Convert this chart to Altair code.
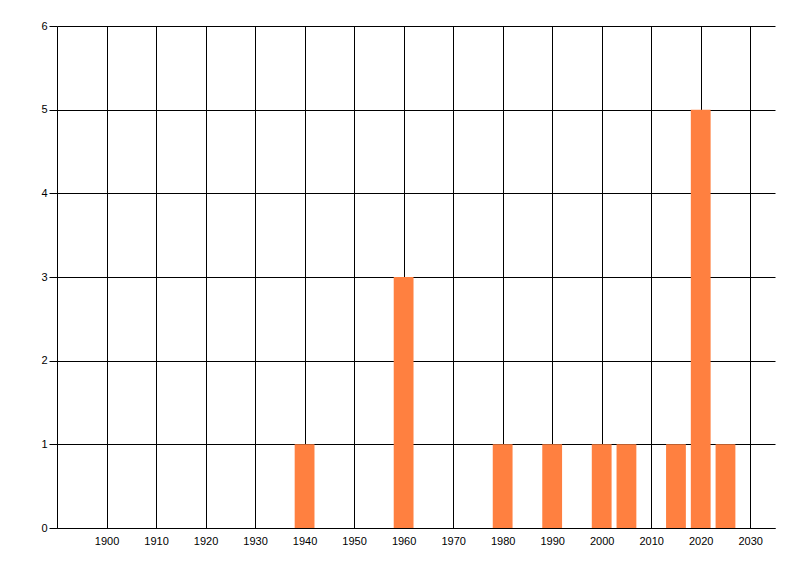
import altair as alt
import pandas as pd

years = [1940, 1960, 1980, 1990, 2000, 2005, 2015, 2020, 2025]
counts = [1, 3, 1, 1, 1, 1, 1, 5, 1]
x_ticks = list(range(1900, 2031, 10))
y_ticks = [0, 1, 2, 3, 4, 5, 6]

df = pd.DataFrame({"year": years, "count": counts})

chart = (
    alt.Chart(df)
    .transform_calculate(x0="datum.year - 2", x1="datum.year + 2")
    .mark_bar(color="#FF8040")
    .encode(
        x=alt.X(
            "x0:Q",
            scale=alt.Scale(domain=[1890, 2035], nice=False, zero=False),
            axis=alt.Axis(
                values=x_ticks,
                title=None,
                format="d",
                ticks=False,
                labelPadding=7,
                grid=True,
                gridColor="black",
                gridOpacity=1,
                domainColor="black",
                labelColor="black",
                labelFont="Liberation Sans",
                labelFontSize=11,
            ),
        ),
        x2="x1:Q",
        y=alt.Y(
            "count:Q",
            scale=alt.Scale(domain=[0, 6], nice=False, padding=0),
            axis=alt.Axis(
                values=y_ticks,
                title=None,
                tickSize=8,
                tickColor="black",
                labelPadding=2,
                grid=True,
                gridColor="black",
                gridOpacity=1,
                domainColor="black",
                labelColor="black",
                labelFont="Liberation Sans",
                labelFontSize=11,
            ),
        ),
        y2=alt.datum(0),
    )
    .properties(
        width=718,
        height=502,
        autosize=alt.AutoSizeParams(type="none"),
        padding={"left": 49, "top": 18, "right": 10, "bottom": 40},
    )
    .configure_view(stroke=None)
    .configure_axis(domainWidth=1, gridWidth=1, tickWidth=1)
)

chart.save("out.html", embed_options={"renderer": "svg", "actions": False})
